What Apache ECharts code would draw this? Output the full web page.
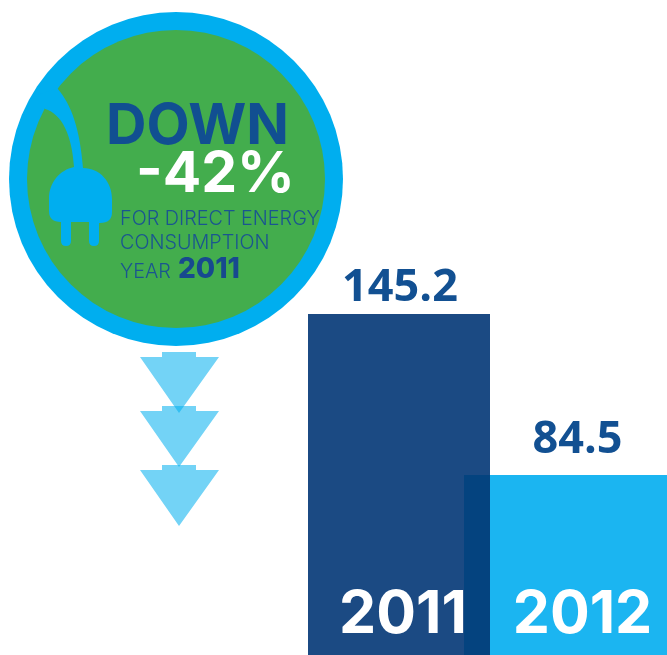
<!DOCTYPE html>
<html>
<head>
<meta charset="utf-8">
<style>html,body{margin:0;padding:0;background:#fff}#chart{width:667px;height:655px}</style>
<script src="https://cdn.jsdelivr.net/npm/echarts@6/dist/echarts.min.js"></script>
</head>
<body>
<div id="chart"></div>
<script>
// Direct energy consumption per year
const years = ['2011', '2012'];
const consumption = [145.2, 84.5];

// Headline text inside the badge
const headline = 'DOWN';
const change = '-42%';
const captionLines = ['FOR DIRECT ENERGY', 'CONSUMPTION', 'YEAR'];

const NAVY = '#1b4a83', SKY = '#1bb5f1', OVERLAP = '#04437f', VALUE_INK = '#125092';
const RING = '#00aeef', GREEN = '#43ad4d', CAPTION_INK = '#1a5590';

// Shared hidden value scale: the columns stand on a raised baseline
const valueAxis = { type: 'value', min: 16.6, max: 263.6, show: false };
const frames = [
  { left: 308, top: 0, width: 182, height: 655 },
  { left: 464, top: 0, width: 203, height: 655 },
  { left: 464, top: 0, width: 26, height: 655 }
];

// Power plug with its cable running up into the ring
echarts.graphic.registerShape('plug', echarts.graphic.extendPath(
  'M38 95 L57 88 C72 105 80 130 83 168 C100 168 112 182 112 199 L112 212 Q112 223 100 223 L99 223 L99 241 Q99 246 94 246 Q89 246 89 241 L89 222 L71 222 L71 241 Q71 246 66 246 Q61 246 61 241 L61 222 Q49 222 49 211 L49 199 C49 182 60 170 74 167 C72 135 62 114 45 109 Z'
));

function column(i, name, value, color, z, label) {
  return {
    type: 'bar', name, xAxisIndex: i, yAxisIndex: i, barWidth: '100%', barGap: '-100%', z, silent: true,
    data: [value], itemStyle: { color }, label, animation: false
  };
}
function valueLabel(offset) {
  return {
    show: true, position: 'top', offset, color: VALUE_INK,
    fontFamily: 'Open Sans', fontWeight: 700, fontSize: 45
  };
}
function yearLabel(text, offset) {
  return {
    show: true, position: 'insideBottom', offset, formatter: text, color: '#fff',
    fontFamily: 'Inter', fontWeight: 700, fontSize: 59
  };
}

// Three stacked drop arrows below the badge
function dropArrow(top) {
  return {
    type: 'polygon', z: 1, silent: true,
    shape: { points: [[162, top - 5], [196, top - 5], [196, top], [219, top], [179, top + 56], [140, top], [162, top]] },
    style: { fill: RING, opacity: 0.55 }
  };
}
function text(str, x, y, size, weight, fill, align) {
  return {
    type: 'text', z: 5, silent: true,
    style: { text: str, x, y, fill, textAlign: align || 'left', textVerticalAlign: 'middle',
             font: weight + ' ' + size + 'px Inter' }
  };
}

const chart = echarts.init(document.getElementById('chart'), null, { renderer: 'canvas' });
chart.setOption({
  animation: false,
  backgroundColor: '#fff',
  grid: frames,
  xAxis: frames.map((_, i) => ({ type: 'category', gridIndex: i, data: [i === 1 ? years[1] : years[0]], show: false })),
  yAxis: frames.map((_, i) => ({ ...valueAxis, gridIndex: i })),
  series: [
    column(0, years[0], consumption[0], NAVY, 2, valueLabel([1, 2])),
    column(1, years[1], consumption[1], SKY, 3, valueLabel([12, -7])),
    column(2, 'overlap', consumption[1], OVERLAP, 4),
    column(0, years[0] + ' caption', consumption[0], 'transparent', 6, yearLabel(years[0], [4, -5])),
    column(1, years[1] + ' caption', consumption[1], 'transparent', 6, yearLabel(years[1], [17, -5]))
  ],
  graphic: [
    dropArrow(357), dropArrow(411), dropArrow(470),
    { type: 'circle', z: 2, silent: true, shape: { cx: 176, cy: 179, r: 167 }, style: { fill: RING } },
    { type: 'circle', z: 3, silent: true, shape: { cx: 176, cy: 179, r: 149 }, style: { fill: GREEN } },
    { type: 'plug', z: 4, silent: true, style: { fill: RING } },
    text(headline, 106, 127, 56, 700, '#114f91'),
    text(change, 136, 175, 57, 700, '#fff'),
    text(captionLines[0], 120, 219, 19.8, 300, CAPTION_INK),
    text(captionLines[1], 120, 243, 19.8, 300, CAPTION_INK),
    text(captionLines[2], 120, 272, 19.8, 300, CAPTION_INK),
    text(years[0], 178, 270, 28, 800, '#17498f')
  ]
});
</script>
</body>
</html>
